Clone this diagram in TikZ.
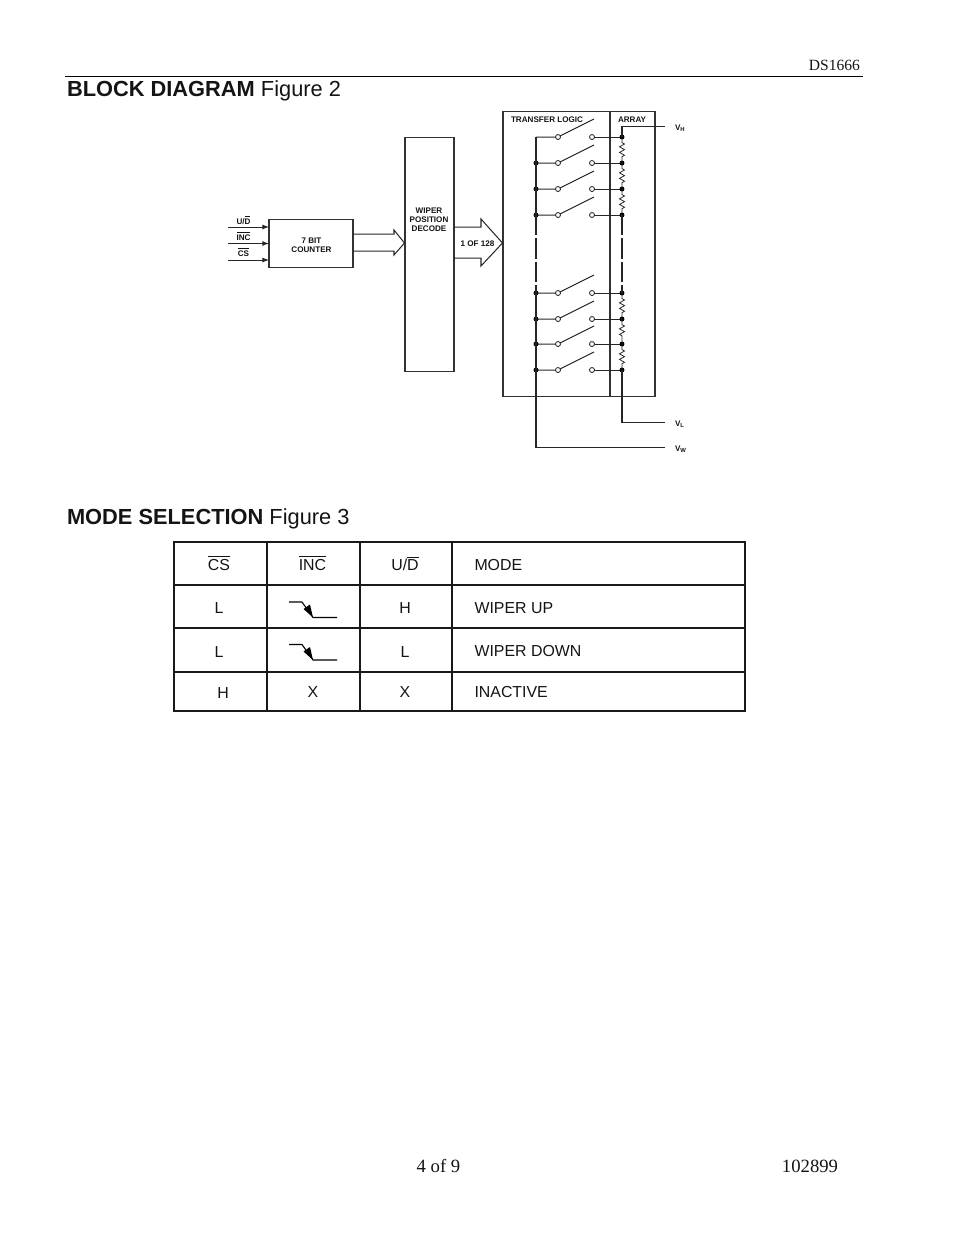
\documentclass[tikz,border=0pt]{standalone}
\usepackage{fontspec}
\setmainfont{Liberation Serif}
\setsansfont{Liberation Sans}
\usetikzlibrary{arrows.meta,decorations.pathmorphing}
\newcommand{\ovl}[1]{$\overline{\mbox{#1}}$}
\tikzset{
  txt/.style={inner sep=0pt,outer sep=0pt,text=black!92},
  pagetxt/.style={txt,anchor=base,font=\fontsize{12}{14}\selectfont},
  headtxt/.style={txt,anchor=base west,font=\sffamily\fontsize{14}{16}\selectfont},
  smalltxt/.style={txt,anchor=center,font=\sffamily\bfseries\fontsize{5.2}{5.9}\selectfont,align=center},
  pintxt/.style={txt,anchor=base,font=\sffamily\bfseries\fontsize{5.2}{6}\selectfont},
  celltxt/.style={txt,anchor=base,font=\sffamily\fontsize{10.2}{12}\selectfont},
  modetxt/.style={txt,anchor=base west,font=\sffamily\fontsize{10.2}{12}\selectfont},
  wire/.style={draw=black!85,line width=0.65pt},
  boxline/.style={draw=black!80,line width=0.65pt},
  tline/.style={draw=black!90,line width=0.7pt},
  dotn/.style={circle,fill=black,inner sep=0pt,outer sep=0pt,minimum size=3.2pt},
  opn/.style={circle,draw=black!85,fill=white,line width=0.55pt,inner sep=0pt,minimum size=3.2pt},
  res/.style={wire,line width=0.5pt,decorate,decoration={zigzag,amplitude=1.6pt,segment length=3.6pt,pre length=3.6pt,post length=3.6pt}},
  longdash/.style={dash pattern=on 13pt off 2pt},
  inarrow/.style={wire,-{Latex[length=4.2pt,width=3.2pt]}},
  edgearrow/.style={draw=black,line width=0.7pt}
}
\begin{document}
\begin{tikzpicture}[x=0.6415pt,y=-0.6415pt]
\useasboundingbox (0,0) rectangle (954,1235);
% page furniture
\node[pagetxt,anchor=base east,font=\fontsize{10}{12}\selectfont] (ds) at (860,70) {DS1666};
\coordinate (ruleL) at (65,76.5);
\coordinate (ruleR) at (863,76.5);
\draw[draw=black,line width=0.6pt] (ruleL) -- (ruleR);
\node[headtxt] (h1) at (67,96) {\textbf{BLOCK DIAGRAM} Figure 2};
\node[headtxt] (h2) at (67,524) {\textbf{MODE SELECTION} Figure 3};
\node[pagetxt] (pg) at (438.5,1172) {4 of 9};
\node[pagetxt] (dt) at (810,1172) {102899};
% blocks
\coordinate (cA) at (269,219); \coordinate (cB) at (353,267);
\draw[boxline] (cA) rectangle (cB);
\node[smalltxt] (cnt) at (311.5,245) {7 BIT\\COUNTER};
\coordinate (dA) at (405,137); \coordinate (dB) at (454,371);
\draw[boxline] (dA) rectangle (dB);
\node[smalltxt] (dec) at (429,220) {WIPER\\POSITION\\DECODE};
\coordinate (oA) at (503,111); \coordinate (oB) at (655,396);
\draw[boxline] (oA) rectangle (oB);
\coordinate (divT) at (610,111); \coordinate (divB) at (610,396);
\draw[boxline] (divT) -- (divB);
\node[smalltxt,anchor=base west] (tl) at (511,122) {TRANSFER LOGIC};
\node[smalltxt,anchor=base west] (ar) at (618,122) {ARRAY};
% inputs
\foreach \n/\y/\t/\ly in {a/227/{U/\ovl{D}}/224, b/243.5/{\ovl{INC}}/240, c/260/{\ovl{CS}}/256}{
  \coordinate (in\n) at (228,\y);
  \coordinate (to\n) at (269,\y);
  \draw[inarrow] (in\n) -- (to\n);
  \node[pintxt] (lab\n) at (243.5,\ly) {\t};
}
% hollow arrows
\coordinate (p1) at (353,234); \coordinate (p2) at (394,234); \coordinate (p3) at (394,230);
\coordinate (p4) at (404.5,243); \coordinate (p5) at (394,255); \coordinate (p6) at (394,251);
\coordinate (p7) at (353,251);
\draw[wire,line join=miter] (p1) -- (p2) -- (p3) -- (p4) -- (p5) -- (p6) -- (p7);
\coordinate (q1) at (454,227); \coordinate (q2) at (481,227); \coordinate (q3) at (481,219);
\coordinate (q4) at (502.5,243); \coordinate (q5) at (481,266); \coordinate (q6) at (481,258);
\coordinate (q7) at (454,258);
\draw[wire,line join=miter] (q1) -- (q2) -- (q3) -- (q4) -- (q5) -- (q6) -- (q7);
\node[smalltxt,anchor=base] (one) at (477.5,246) {1 OF 128};
% switch rows
\foreach \i/\y in {1/137,2/163,3/189,4/215,5/293,6/319,7/344,8/370}{
  \coordinate (L\i) at (536,\y);
  \coordinate (Rc\i) at (622,\y);
  \coordinate (e\i) at (594,\y-18);
  \coordinate (ac\i) at (558,\y);
  \coordinate (bc\i) at (592,\y);
  \draw[wire] (L\i) -- (ac\i) -- (e\i);
  \draw[wire] (bc\i) -- (Rc\i);
  \node[dotn] (R\i) at (Rc\i) {};
  \node[opn] (a\i) at (ac\i) {};
  \node[opn] (b\i) at (bc\i) {};
}
\foreach \i in {2,3,4,5,6,7,8}{ \node[dotn] (D\i) at (L\i) {}; }
% resistors
\foreach \i/\j in {1/2,2/3,3/4,5/6,6/7,7/8}{ \draw[res] (Rc\i) -- (Rc\j); }
% buses
\draw[wire] (L1) -- (L4);
\draw[wire,longdash] (L4) -- (L5);
\draw[wire,longdash] (Rc4) -- (Rc5);
\coordinate (vhC) at (622,126); \coordinate (vhE) at (665,126);
\coordinate (vlC) at (622,422); \coordinate (vlE) at (665,422);
\coordinate (vwC) at (536,447); \coordinate (vwE) at (665,447);
\draw[wire] (Rc1) -- (vhC) -- (vhE);
\draw[wire] (L5) -- (L8) -- (vwC) -- (vwE);
\draw[wire] (Rc8) -- (vlC) -- (vlE);
\foreach \n/\y/\s in {H/130/H, L/426/L, W/451/W}{
  \node[pintxt,anchor=base west] (v\n) at (675,\y) {V\raisebox{-1pt}{\fontsize{3.8}{4}\selectfont \s}};
}
% table
\coordinate (t1) at (174,542); \coordinate (t2) at (745,711);
\draw[tline] (t1) rectangle (t2);
\foreach \y/\n in {585/r1,628/r2,672/r3}{
  \coordinate (\n l) at (174,\y); \coordinate (\n r) at (745,\y);
  \draw[tline] (\n l) -- (\n r);
}
\foreach \x/\n in {267/c1,360/c2,452/c3}{
  \coordinate (\n t) at (\x,542); \coordinate (\n b) at (\x,711);
  \draw[tline] (\n t) -- (\n b);
}
\node[celltxt] (h11) at (219,570) {\ovl{CS}};
\node[celltxt] (h12) at (312.5,570) {\ovl{INC}};
\node[celltxt] (h13) at (405,570) {U/\ovl{D}};
\node[modetxt] (h14) at (474.5,570) {MODE};
\node[celltxt] (r11) at (219,613) {L};
\node[celltxt] (r13) at (405,613) {H};
\node[modetxt] (r14) at (474.5,613) {WIPER UP};
\node[celltxt] (r21) at (219,657) {L};
\node[celltxt] (r23) at (405,657) {L};
\node[modetxt] (r24) at (474.5,656) {WIPER DOWN};
\node[celltxt] (r31) at (223,698) {H};
\node[celltxt] (r32) at (313,697) {X};
\node[celltxt] (r33) at (405,697) {X};
\node[modetxt] (r34) at (474.5,697) {INACTIVE};
% falling edges
\foreach \y in {602,644.5}{
  \coordinate (ea) at (289,\y); \coordinate (eb) at (302,\y);
  \coordinate (ec) at (313,\y+15.5); \coordinate (ed) at (337,\y+15.5);
  \draw[edgearrow] (ea) -- (eb) -- (ec) -- (ed);
  \fill[black] (ec) -- (303.5,\y+7) -- (310,\y+2.5) -- cycle;
}
\end{tikzpicture}
\end{document}
